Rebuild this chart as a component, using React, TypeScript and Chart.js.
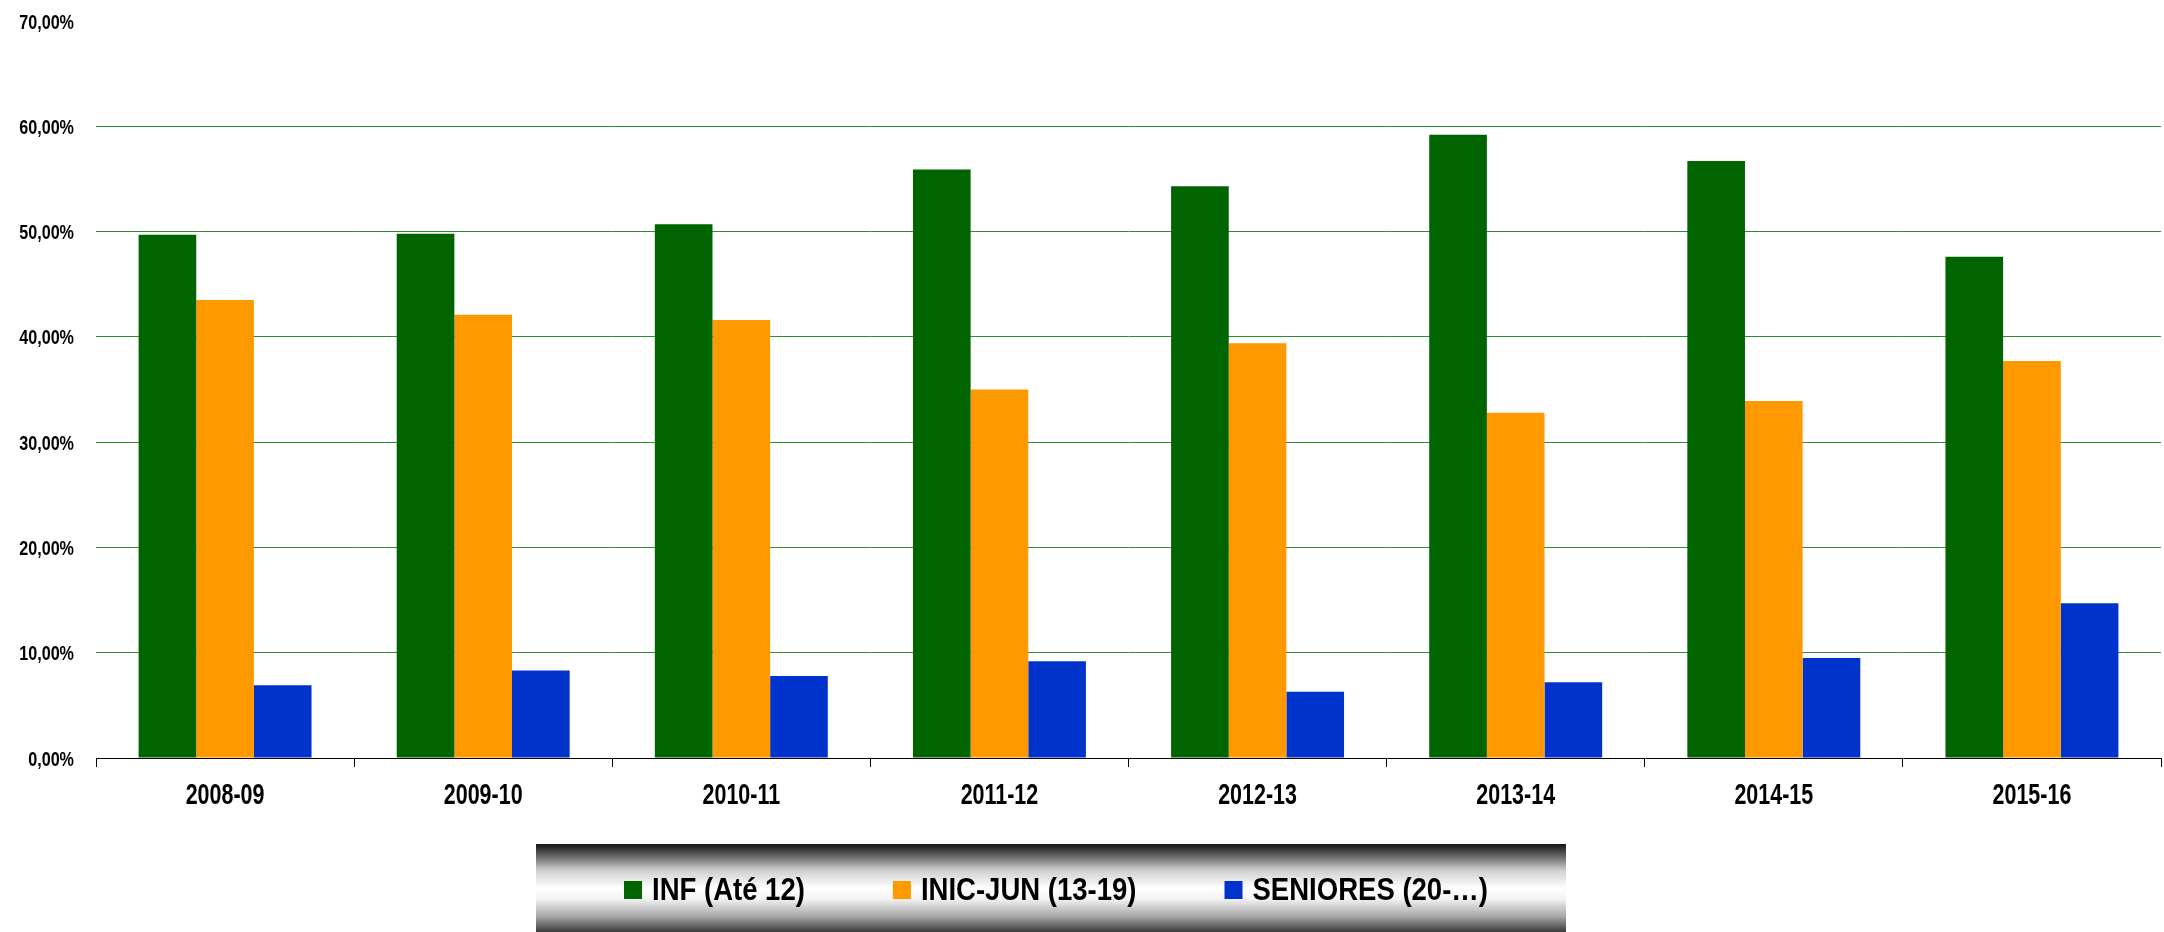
import React, { useEffect, useRef } from "react";
import { Chart, registerables } from "chart.js";

Chart.register(...registerables);

const categories = ["2008-09", "2009-10", "2010-11", "2011-12", "2012-13", "2013-14", "2014-15", "2015-16"];
const infValues = [49.7, 49.8, 50.7, 55.9, 54.3, 59.2, 56.7, 47.6];
const inicJunValues = [43.5, 42.1, 41.6, 35.0, 39.4, 32.8, 33.9, 37.7];
const senioresValues = [6.9, 8.3, 7.8, 9.2, 6.3, 7.2, 9.5, 14.7];
const seriesLabels = ["INF (Até 12)", "INIC-JUN (13-19)", "SENIORES (20-…)"];
const seriesColors = ["#006400", "#FF9900", "#0033CC"];
const yTickMin = 0;
const yTickMax = 70;
const yTickStep = 10;

const FONT = "'Liberation Sans', Arial, sans-serif";

const formatPct = (v: number) => Number(v).toFixed(2).replace(".", ",") + "%";

function drawCondensed(
  ctx: CanvasRenderingContext2D,
  text: string,
  x: number,
  y: number,
  sx: number,
  align: CanvasTextAlign
) {
  ctx.save();
  ctx.translate(x, y);
  ctx.scale(sx, 1);
  ctx.textAlign = align;
  ctx.textBaseline = "alphabetic";
  ctx.fillText(text, 0, 0);
  ctx.restore();
}

const axisLabelPlugin = {
  id: "condensedAxisLabels",
  afterDraw(chart: any) {
    const ctx = chart.ctx as CanvasRenderingContext2D;
    const xs = chart.scales.x;
    const ys = chart.scales.y;
    ctx.save();
    ctx.fillStyle = "#000000";
    ctx.font = `bold 29px ${FONT}`;
    xs.ticks.forEach((t: any, i: number) => {
      const label = xs.getLabelForValue(t.value);
      const px = xs.getPixelForTick(i);
      drawCondensed(ctx, String(label), px, xs.top + 46, 0.74, "center");
    });
    ctx.font = `bold 21px ${FONT}`;
    ys.ticks.forEach((t: any, i: number) => {
      const py = ys.getPixelForTick(i);
      drawCondensed(ctx, formatPct(t.value), 74, py + 7.5, 0.77, "right");
    });
    ctx.restore();
  },
};

const legendPlugin = {
  id: "gradientLegend",
  afterDraw(chart: any) {
    const ctx = chart.ctx as CanvasRenderingContext2D;
    const x0 = 536, x1 = 1566, y0 = 844, y1 = 932;
    ctx.save();
    const g = ctx.createLinearGradient(0, y0, 0, y1);
    g.addColorStop(0, "#141414");
    g.addColorStop(0.12, "#5a5a5a");
    g.addColorStop(0.3, "#cfcfcf");
    g.addColorStop(0.5, "#ffffff");
    g.addColorStop(0.62, "#f4f4f4");
    g.addColorStop(0.82, "#a8a8a8");
    g.addColorStop(1, "#3a3a3a");
    ctx.fillStyle = g;
    ctx.fillRect(x0, y0, x1 - x0, y1 - y0);

    const sx = 0.86;
    ctx.font = `bold 32px ${FONT}`;
    const box = 18, boxGap = 10, itemGap = 88;
    const items = chart.data.datasets.map((d: any) => ({
      label: d.label as string,
      color: d.backgroundColor as string,
      w: ctx.measureText(d.label).width * sx,
    }));
    const total = items.reduce((s: number, it: any) => s + box + boxGap + it.w, 0) + itemGap * (items.length - 1);
    let x = 1056 - total / 2;
    for (const it of items) {
      ctx.fillStyle = it.color;
      ctx.fillRect(x, 881, box, box);
      ctx.fillStyle = "#000000";
      drawCondensed(ctx, it.label, x + box + boxGap, 900, sx, "left");
      x += box + boxGap + it.w + itemGap;
    }
    ctx.restore();
  },
};

export default function App() {
  const ref = useRef<HTMLCanvasElement | null>(null);

  useEffect(() => {
    if (!ref.current) return;
    const chart = new Chart(ref.current, {
      type: "bar",
      data: {
        labels: categories,
        datasets: [
          { label: seriesLabels[0], data: infValues, backgroundColor: seriesColors[0] },
          { label: seriesLabels[1], data: inicJunValues, backgroundColor: seriesColors[1] },
          { label: seriesLabels[2], data: senioresValues, backgroundColor: seriesColors[2] },
        ],
      },
      options: {
        responsive: false,
        animation: false,
        devicePixelRatio: 1,
        layout: { padding: { top: 21, right: 3, bottom: 0, left: 0 } },
        datasets: { bar: { categoryPercentage: 0.67, barPercentage: 1.0, borderWidth: 0 } },
        plugins: {
          legend: { display: false },
          tooltip: { enabled: false },
        },
        scales: {
          x: {
            grid: {
              display: true,
              drawOnChartArea: false,
              drawTicks: true,
              tickLength: 9,
              color: "#000000",
              lineWidth: 1,
            },
            border: { display: true, color: "#000000", width: 1 },
            ticks: { display: false },
            afterFit: (scale: any) => {
              scale.height = 174;
            },
          },
          y: {
            min: yTickMin,
            max: yTickMax,
            grid: {
              drawTicks: false,
              color: (c: any) =>
                c.tick && (c.tick.value === yTickMax || c.tick.value === yTickMin) ? "rgba(0,0,0,0)" : "#2f8f2f",
              lineWidth: 1,
            },
            border: { display: false },
            ticks: {
              display: false,
              stepSize: yTickStep,
              callback: (v: any) => formatPct(v),
            },
            afterFit: (scale: any) => {
              scale.width = 96;
            },
          },
        },
      },
      plugins: [axisLabelPlugin, legendPlugin],
    } as any);
    return () => chart.destroy();
  }, []);

  return (
    <div style={{ position: "absolute", left: 0, top: 0, width: 2164, height: 932, background: "#ffffff" }}>
      <canvas ref={ref} width={2164} height={932} style={{ width: 2164, height: 932, display: "block" }} />
    </div>
  );
}
